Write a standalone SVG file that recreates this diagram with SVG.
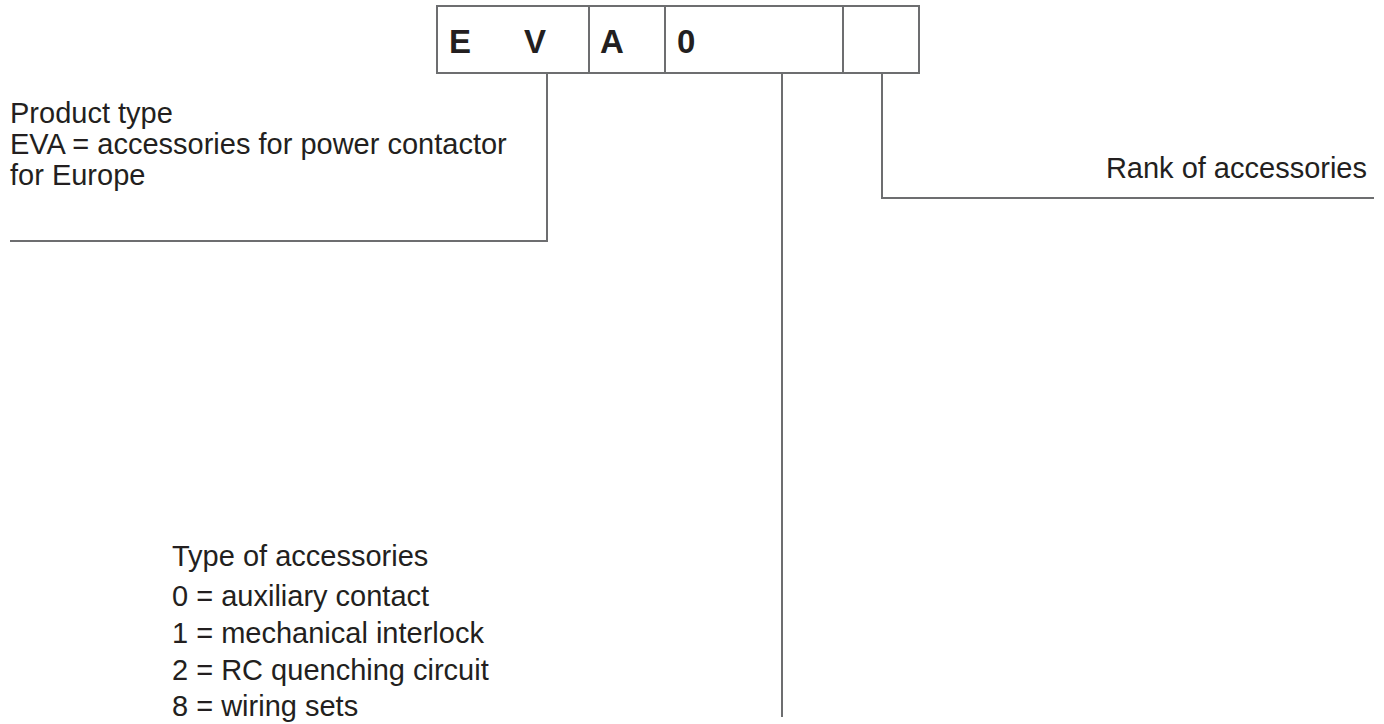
<svg xmlns="http://www.w3.org/2000/svg" width="1384" height="724" viewBox="0 0 1384 724">
<style>
.ln{fill:none;stroke:#6d6e70;stroke-width:2}
.t{font-family:"Liberation Sans",Arial,sans-serif;font-size:29px;fill:#231f20}
.b{font-family:"Liberation Sans",Arial,sans-serif;font-size:33px;font-weight:bold;fill:#231f20}
</style>
<rect width="1384" height="724" fill="#fff"/>
<g id="code">
<rect class="ln" x="437" y="6" width="482" height="67" fill="#fff"/>
<line class="ln" x1="589" y1="6" x2="589" y2="73"/>
<line class="ln" x1="665" y1="6" x2="665" y2="73"/>
<line class="ln" x1="843" y1="6" x2="843" y2="73"/>
<text class="b" x="449" y="53">E</text>
<text class="b" x="524" y="53">V</text>
<text class="b" x="600" y="53">A</text>
<text class="b" x="677" y="53">0</text>
</g>
<g id="connectors">
<polyline class="ln" points="547,73 547,241 10,241"/>
<polyline class="ln" points="782,73 782,717"/>
<polyline class="ln" points="882,73 882,198 1374,198"/>
</g>
<g id="product">
<text class="t" x="10" y="123">Product type</text>
<text class="t" x="10" y="154">EVA = accessories for power contactor</text>
<text class="t" x="10" y="185">for Europe</text>
</g>
<g id="rank">
<text class="t" x="1367" y="178" text-anchor="end">Rank of accessories</text>
</g>
<g id="type">
<text class="t" x="172" y="566">Type of accessories</text>
<text class="t" x="172" y="606">0 = auxiliary contact</text>
<text class="t" x="172" y="643">1 = mechanical interlock</text>
<text class="t" x="172" y="680">2 = RC quenching circuit</text>
<text class="t" x="172" y="716">8 = wiring sets</text>
</g>
</svg>
